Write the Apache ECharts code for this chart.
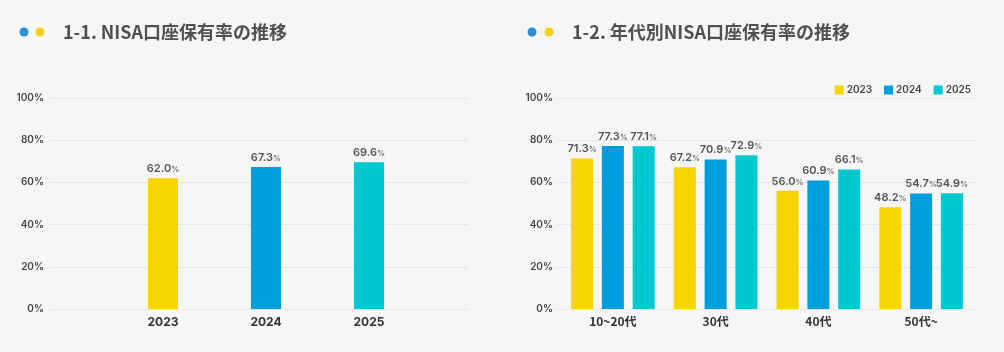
<!DOCTYPE html>
<html>
<head>
<meta charset="utf-8">
<script src="https://cdn.jsdelivr.net/npm/echarts@6/dist/echarts.min.js"></script>
<style>
html,body{margin:0;padding:0;background:#f6f6f6;}
#c{width:1004px;height:352px;}
</style>
</head>
<body>
<div id="c"></div>
<script>
const years = ['2023', '2024', '2025'];
const overallRate = [62.0, 67.3, 69.6];
const ageGroups = ['10~20代', '30代', '40代', '50代~'];
const rate2023 = [71.3, 67.2, 56.0, 48.2];
const rate2024 = [77.3, 70.9, 60.9, 54.7];
const rate2025 = [77.1, 72.9, 66.1, 54.9];
const yMin = 0, yMax = 100, yStep = 20;

const colors = ['#F8D400', '#009EDC', '#00C8D0'];
const numFont = 'Inter, "Noto Sans CJK JP", sans-serif';
const cjkFont = '"Noto Sans CJK JP", Inter, sans-serif';

const labelCfg = {
  show: true, position: 'top', distance: 4,
  formatter: p => '{v|' + p.value.toFixed(1) + '}{p|%}',
  rich: {
    v: { fontFamily: numFont, fontSize: 11, fontWeight: 600, color: '#555' },
    p: { fontFamily: numFont, fontSize: 8, fontWeight: 600, color: '#777', padding: [2, 0, 0, 0] }
  }
};

const yLabel = { formatter: '{value}%', fontFamily: numFont, fontSize: 10, fontWeight: 600, color: '#444' };
const splitLine = { show: true, lineStyle: { color: '#e3e6eb', width: 1 } };

const chart = echarts.init(document.getElementById('c'));
chart.setOption({
  backgroundColor: '#f6f6f6',
  animation: false,
  graphic: [
    { type: 'circle', shape: { cx: 24, cy: 32, r: 4.5 }, style: { fill: '#2A8FD6' } },
    { type: 'circle', shape: { cx: 40, cy: 32, r: 4.5 }, style: { fill: '#F3CE1D' } },
    { type: 'text', style: { x: 63, y: 32, verticalAlign: 'middle', text: '1-1. NISA口座保有率の推移', font: 'bold 18px ' + cjkFont, fill: '#505050' } },
    { type: 'circle', shape: { cx: 532, cy: 32, r: 4.5 }, style: { fill: '#2A8FD6' } },
    { type: 'circle', shape: { cx: 549, cy: 32, r: 4.5 }, style: { fill: '#F3CE1D' } },
    { type: 'text', style: { x: 572, y: 32, verticalAlign: 'middle', text: '1-2. 年代別NISA口座保有率の推移', font: 'bold 18px ' + cjkFont, fill: '#505050' } }
  ],
  legend: {
    right: 28, top: 80, itemWidth: 9, itemHeight: 9, itemGap: 12, icon: 'rect',
    data: years,
    textStyle: { fontFamily: numFont, fontSize: 10, fontWeight: 600, color: '#444', padding: [0, 0, 0, -2] }
  },
  grid: [
    { left: 50, right: 536, top: 98, bottom: 43 },
    { left: 111.5, width: 309, top: 98, bottom: 43 },
    { left: 557, right: 27, top: 98, bottom: 43 },
    { left: 561.5, width: 411, top: 98, bottom: 43 }
  ],
  xAxis: [
    { gridIndex: 0, type: 'value', show: false },
    { gridIndex: 1, type: 'category', data: years, axisLine: { show: false }, axisTick: { show: false },
      axisLabel: { fontFamily: numFont, fontSize: 12, fontWeight: 700, color: '#333', margin: 7 } },
    { gridIndex: 2, type: 'value', show: false },
    { gridIndex: 3, type: 'category', data: ageGroups, axisLine: { show: false }, axisTick: { show: false },
      axisLabel: { fontFamily: cjkFont, fontSize: 12, fontWeight: 700, color: '#333', margin: 6 } }
  ],
  yAxis: [
    { gridIndex: 0, type: 'value', min: yMin, max: yMax, interval: yStep, axisLabel: Object.assign({ margin: 6 }, yLabel),
      splitLine: splitLine, axisLine: { show: false }, axisTick: { show: false } },
    { gridIndex: 1, type: 'value', min: yMin, max: yMax, interval: yStep, show: false, splitLine: { show: false } },
    { gridIndex: 2, type: 'value', min: yMin, max: yMax, interval: yStep, axisLabel: Object.assign({ margin: 4 }, yLabel),
      splitLine: splitLine, axisLine: { show: false }, axisTick: { show: false } },
    { gridIndex: 3, type: 'value', min: yMin, max: yMax, interval: yStep, show: false, splitLine: { show: false } }
  ],
  series: [
    { type: 'bar', xAxisIndex: 1, yAxisIndex: 1, data: overallRate, barWidth: 30,
      itemStyle: { color: p => colors[p.dataIndex] }, label: labelCfg },
    { name: '2023', type: 'bar', xAxisIndex: 3, yAxisIndex: 3, data: rate2023, barWidth: 22, barGap: '40%',
      itemStyle: { color: colors[0] }, label: labelCfg },
    { name: '2024', type: 'bar', xAxisIndex: 3, yAxisIndex: 3, data: rate2024, barWidth: 22, barGap: '40%',
      itemStyle: { color: colors[1] }, label: labelCfg },
    { name: '2025', type: 'bar', xAxisIndex: 3, yAxisIndex: 3, data: rate2025, barWidth: 22, barGap: '40%',
      itemStyle: { color: colors[2] }, label: labelCfg }
  ]
});
</script>
</body>
</html>
